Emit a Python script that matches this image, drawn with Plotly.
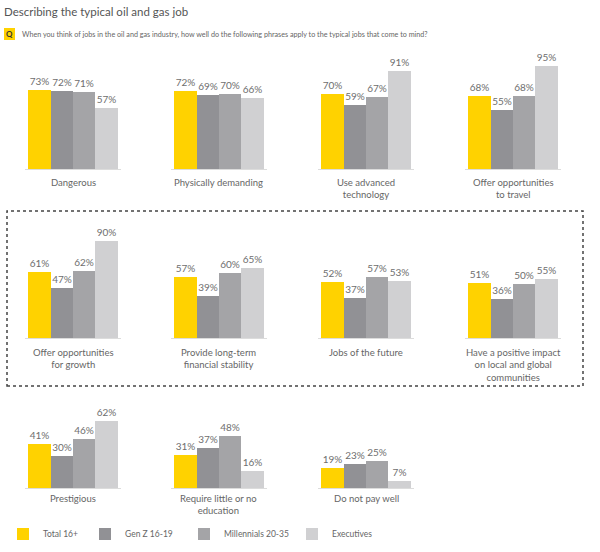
import plotly.graph_objects as go

W, H = 600, 552

categories = [
    "Dangerous", "Physically demanding", "Use advanced<br>technology",
    "Offer opportunities<br>to travel", "Offer opportunities<br>for growth",
    "Provide long-term<br>financial stability", "Jobs of the future",
    "Have a positive impact<br>on local and global<br>communities",
    "Prestigious", "Require little or no<br>education", "Do not pay well",
]
series_names = ["Total 16+", "Gen Z 16-19", "Millennials 20-35", "Executives"]
total = [73, 72, 70, 68, 61, 57, 52, 51, 41, 31, 19]
genz = [72, 69, 59, 55, 47, 39, 37, 36, 30, 37, 23]
millennials = [71, 70, 67, 68, 62, 60, 57, 50, 46, 48, 25]
executives = [57, 66, 91, 95, 90, 65, 53, 55, 62, 16, 7]

colors = ["#FFD200", "#919195", "#a4a4a7", "#d0d0d2"]
values = [total, genz, millennials, executives]
legend_ids = ["legend", "legend2", "legend3", "legend4"]

FONT = "Lato"
col_left = [28, 174, 321, 468]
row_base = [169, 338, 488]
label_center = [181, 351, 497]
px_per_pct = 1.085


def py(p):
    return 1 - p / H


fig = go.Figure()
annotations = []
layout_axes = {}

for i, cat in enumerate(categories):
    r, c = divmod(i, 4)
    n = i + 1
    xs = "x" if n == 1 else f"x{n}"
    ys = "y" if n == 1 else f"y{n}"
    for s, name in enumerate(series_names):
        v = values[s][i]
        fig.add_trace(go.Bar(
            x=[name], y=[v], xaxis=xs, yaxis=ys,
            marker=dict(color=colors[s], line=dict(width=0)),
            text=[f"{v}%"], textposition="outside", cliponaxis=False,
            constraintext="none",
            textfont=dict(size=10, color="#6e6e6e", family=FONT),
            name=name, legend=legend_ids[s], showlegend=(i == 0),
        ))
    left = col_left[c] - 3
    right = col_left[c] + 93
    b = row_base[r]
    layout_axes["xaxis" if n == 1 else f"xaxis{n}"] = dict(
        domain=[left / W, right / W], anchor=ys, type="category",
        categoryorder="array", categoryarray=series_names,
        range=[-0.634, 3.634], showticklabels=False, showline=True,
        linecolor="#dcdcdc", linewidth=1, showgrid=False, zeroline=False,
        ticks="", fixedrange=True,
    )
    layout_axes["yaxis" if n == 1 else f"yaxis{n}"] = dict(
        domain=[py(b), py(b - 100 * px_per_pct)], anchor=xs,
        range=[0, 100], visible=False, fixedrange=True,
    )
    annotations.append(dict(
        text=cat, xref=f"{xs} domain", x=0.5, xanchor="center",
        yref="paper", y=py(label_center[r] - 6.5), yanchor="top",
        showarrow=False, align="center",
        font=dict(size=9.5, color="#666666", family=FONT),
    ))

annotations.append(dict(
    text="<b>Q</b>", xref="paper", x=9.5 / W, xanchor="center",
    yref="paper", y=py(34), yanchor="middle", showarrow=False,
    font=dict(size=8, color="#333333", family=FONT),
))
annotations.append(dict(
    text="When you think of jobs in the oil and gas industry, how well do the following phrases apply to the typical jobs that come to mind?",
    xref="paper", x=20 / W, xanchor="left", yref="paper", y=py(34),
    yanchor="middle", showarrow=False,
    font=dict(size=7.2, color="#666666", family=FONT),
))

legend_x = [3, 85, 184, 292]
legends = {}
for s, lid in enumerate(legend_ids):
    legends[lid] = dict(
        x=legend_x[s] / W, xanchor="left", y=py(534), yanchor="middle",
        orientation="h", bgcolor="rgba(0,0,0,0)",
        font=dict(size=8.5, color="#666666", family=FONT),
    )

shapes = [
    dict(type="rect", xref="paper", yref="paper",
         x0=7 / W, x1=583 / W, y0=py(386), y1=py(211),
         line=dict(color="#444444", width=1.5, dash="dot")),
    dict(type="rect", xref="paper", yref="paper",
         x0=4 / W, x1=15 / W, y0=py(40), y1=py(28),
         fillcolor="#FFD200", line=dict(width=0)),
]

fig.update_layout(
    width=W, height=H, margin=dict(l=0, r=0, t=0, b=0),
    paper_bgcolor="white", plot_bgcolor="white",
    barmode="overlay", bargap=0,
    font=dict(family=FONT, color="#666666"),
    title=dict(text="Describing the typical oil and gas job", x=4 / W,
               xanchor="left", y=py(12), yanchor="middle",
               font=dict(size=11.5, color="#555555", family=FONT)),
    annotations=annotations, shapes=shapes,
    **layout_axes, **legends,
)

fig.write_html("out.html", config={"displayModeBar": False},
               post_script="document.body.style.margin='0';")
